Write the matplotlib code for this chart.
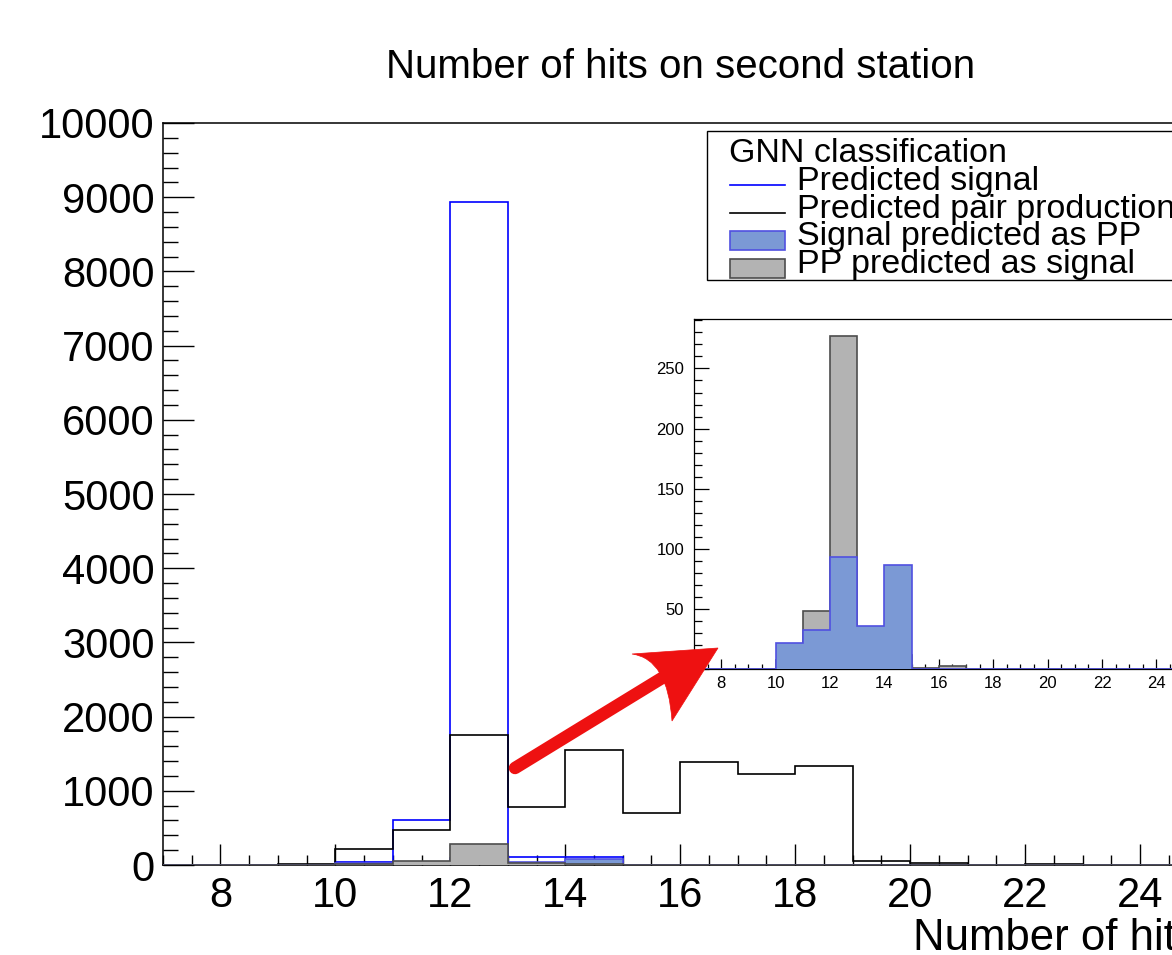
import numpy as np
import matplotlib
matplotlib.use("Agg")
import matplotlib.pyplot as plt
from matplotlib.ticker import MultipleLocator, StrMethodFormatter
from matplotlib.patches import Rectangle, PathPatch
from matplotlib.lines import Line2D
from matplotlib.path import Path

plt.rcParams['font.family'] = ['Liberation Sans', 'DejaVu Sans']

# histogram data, one value per bin 7-8, 8-9, ..., 24-25
edges = np.arange(7, 26)
pred_signal = [0, 0, 2, 38, 605, 8930, 105, 110, 2, 0, 0, 0, 0, 0, 0, 0, 0, 0]
pred_pp = [0, 0, 15, 216, 476, 1752, 785, 1550, 705, 1388, 1232, 1330, 55, 30, 6, 8, 4, 3]
pp_as_signal = [0, 0, 0, 8, 48, 277, 30, 12, 1, 3, 0, 0, 0, 0, 0, 0, 0, 0]
signal_as_pp = [0, 0, 0, 22, 32.7, 93.6, 36, 86.7, 0, 0, 0, 0, 0, 0, 0, 0, 0, 0]

blue_fill = '#7b99d5'
blue_edge = '#5050e0'
gray_fill = '#b3b3b3'
gray_edge = '#4d4d4d'

W, H = 1172, 955
fig = plt.figure(figsize=(W / 100, H / 100), dpi=100)

# main pad (right part runs off the canvas, like the reference)
ax = fig.add_axes([163 / W, (H - 865) / H, 18 * 57.47 / W, 742 / H])
ax.stairs(pred_signal, edges, color='#0000ff', lw=1.2, zorder=2)
ax.stairs(pred_pp, edges, color='black', lw=1.2, zorder=3)
ax.stairs(signal_as_pp, edges, fill=True, facecolor=blue_fill, edgecolor=blue_edge, lw=1.2, zorder=4)
ax.stairs(pp_as_signal, edges, fill=True, facecolor=gray_fill, edgecolor=gray_edge, lw=1.2, zorder=5)
ax.set_xlim(7, 25)
ax.set_ylim(0, 10000)
ax.xaxis.set_major_locator(MultipleLocator(2))
ax.xaxis.set_minor_locator(MultipleLocator(0.5))
ax.yaxis.set_major_locator(MultipleLocator(1000))
ax.yaxis.set_minor_locator(MultipleLocator(200))
ax.yaxis.set_major_formatter(StrMethodFormatter('{x:.0f}'))
ax.tick_params(which='both', direction='in', width=1.0, labelsize=30)
ax.tick_params(axis='x', which='major', length=15, pad=8)
ax.tick_params(axis='x', which='minor', length=7.5)
ax.tick_params(axis='y', which='major', length=22, pad=6)
ax.tick_params(axis='y', which='minor', length=11)
for s in ax.spines.values():
    s.set_linewidth(1.1)
ax.text(1.0, -(950 - 865) / 742, 'Number of hits', transform=ax.transAxes,
        ha='right', va='baseline', fontsize=31.5)

fig.text(681 / W, 1 - 78 / H, 'Number of hits on second station',
         ha='center', va='baseline', fontsize=29)

# zoomed inset
ins = fig.add_axes([694 / W, (H - 669.2) / H, 18 * 27.2 / W, 349.9 / H])
ins.set_facecolor('white')
ins.stairs(pp_as_signal, edges, fill=True, facecolor=gray_fill, edgecolor=gray_edge, lw=1.2, zorder=2)
ins.stairs(signal_as_pp, edges, fill=True, facecolor=blue_fill, edgecolor=blue_edge, lw=1.2, zorder=3)
ins.set_xlim(7, 25)
ins.set_ylim(0, 1.05 * max(pp_as_signal))
ins.xaxis.set_major_locator(MultipleLocator(2))
ins.xaxis.set_minor_locator(MultipleLocator(0.5))
ins.yaxis.set_major_locator(MultipleLocator(50))
ins.yaxis.set_minor_locator(MultipleLocator(10))
ins.tick_params(which='both', direction='in', width=0.9, labelsize=12)
ins.tick_params(axis='x', which='major', length=7.5, pad=5)
ins.tick_params(axis='x', which='minor', length=3.8)
ins.tick_params(axis='y', which='major', length=11, pad=7)
ins.tick_params(axis='y', which='minor', length=5.5)
for s in ins.spines.values():
    s.set_linewidth(0.9)

# overlay in pixel coordinates for legend and arrow
ov = fig.add_axes([0, 0, 1, 1], zorder=10)
ov.set_xlim(0, W)
ov.set_ylim(H, 0)
ov.axis('off')
ov.patch.set_alpha(0)

ov.add_patch(Rectangle((707, 131), 600, 149, facecolor='white', edgecolor='black', lw=1.0))
ov.text(729, 161.7, 'GNN classification', fontsize=24.5, va='baseline')
entries = ['Predicted signal', 'Predicted pair production',
           'Signal predicted as PP', 'PP predicted as signal']
for i, lab in enumerate(entries):
    ov.text(797, 190 + 27.5 * i, lab, fontsize=24.5, va='baseline')
ov.add_line(Line2D([730, 785], [185, 185], color='#0000ff', lw=1.2))
ov.add_line(Line2D([730, 785], [212.7, 212.7], color='black', lw=1.2))
ov.add_patch(Rectangle((730, 231), 55, 19, facecolor=blue_fill, edgecolor=blue_edge, lw=1.2))
ov.add_patch(Rectangle((730, 258.5), 55, 19, facecolor=gray_fill, edgecolor=gray_edge, lw=1.2))

# red arrow pointing at the inset
red = '#ee1111'
ov.add_line(Line2D([515, 662], [768, 678], color=red, lw=9, solid_capstyle='round'))
head = Path([(718, 648), (632, 654), (668, 659), (672, 721), (718, 648)],
            [Path.MOVETO, Path.LINETO, Path.CURVE3, Path.CURVE3, Path.CLOSEPOLY])
ov.add_patch(PathPatch(head, facecolor=red, edgecolor=red, lw=0.5))

fig.savefig('out.png', dpi=100)
